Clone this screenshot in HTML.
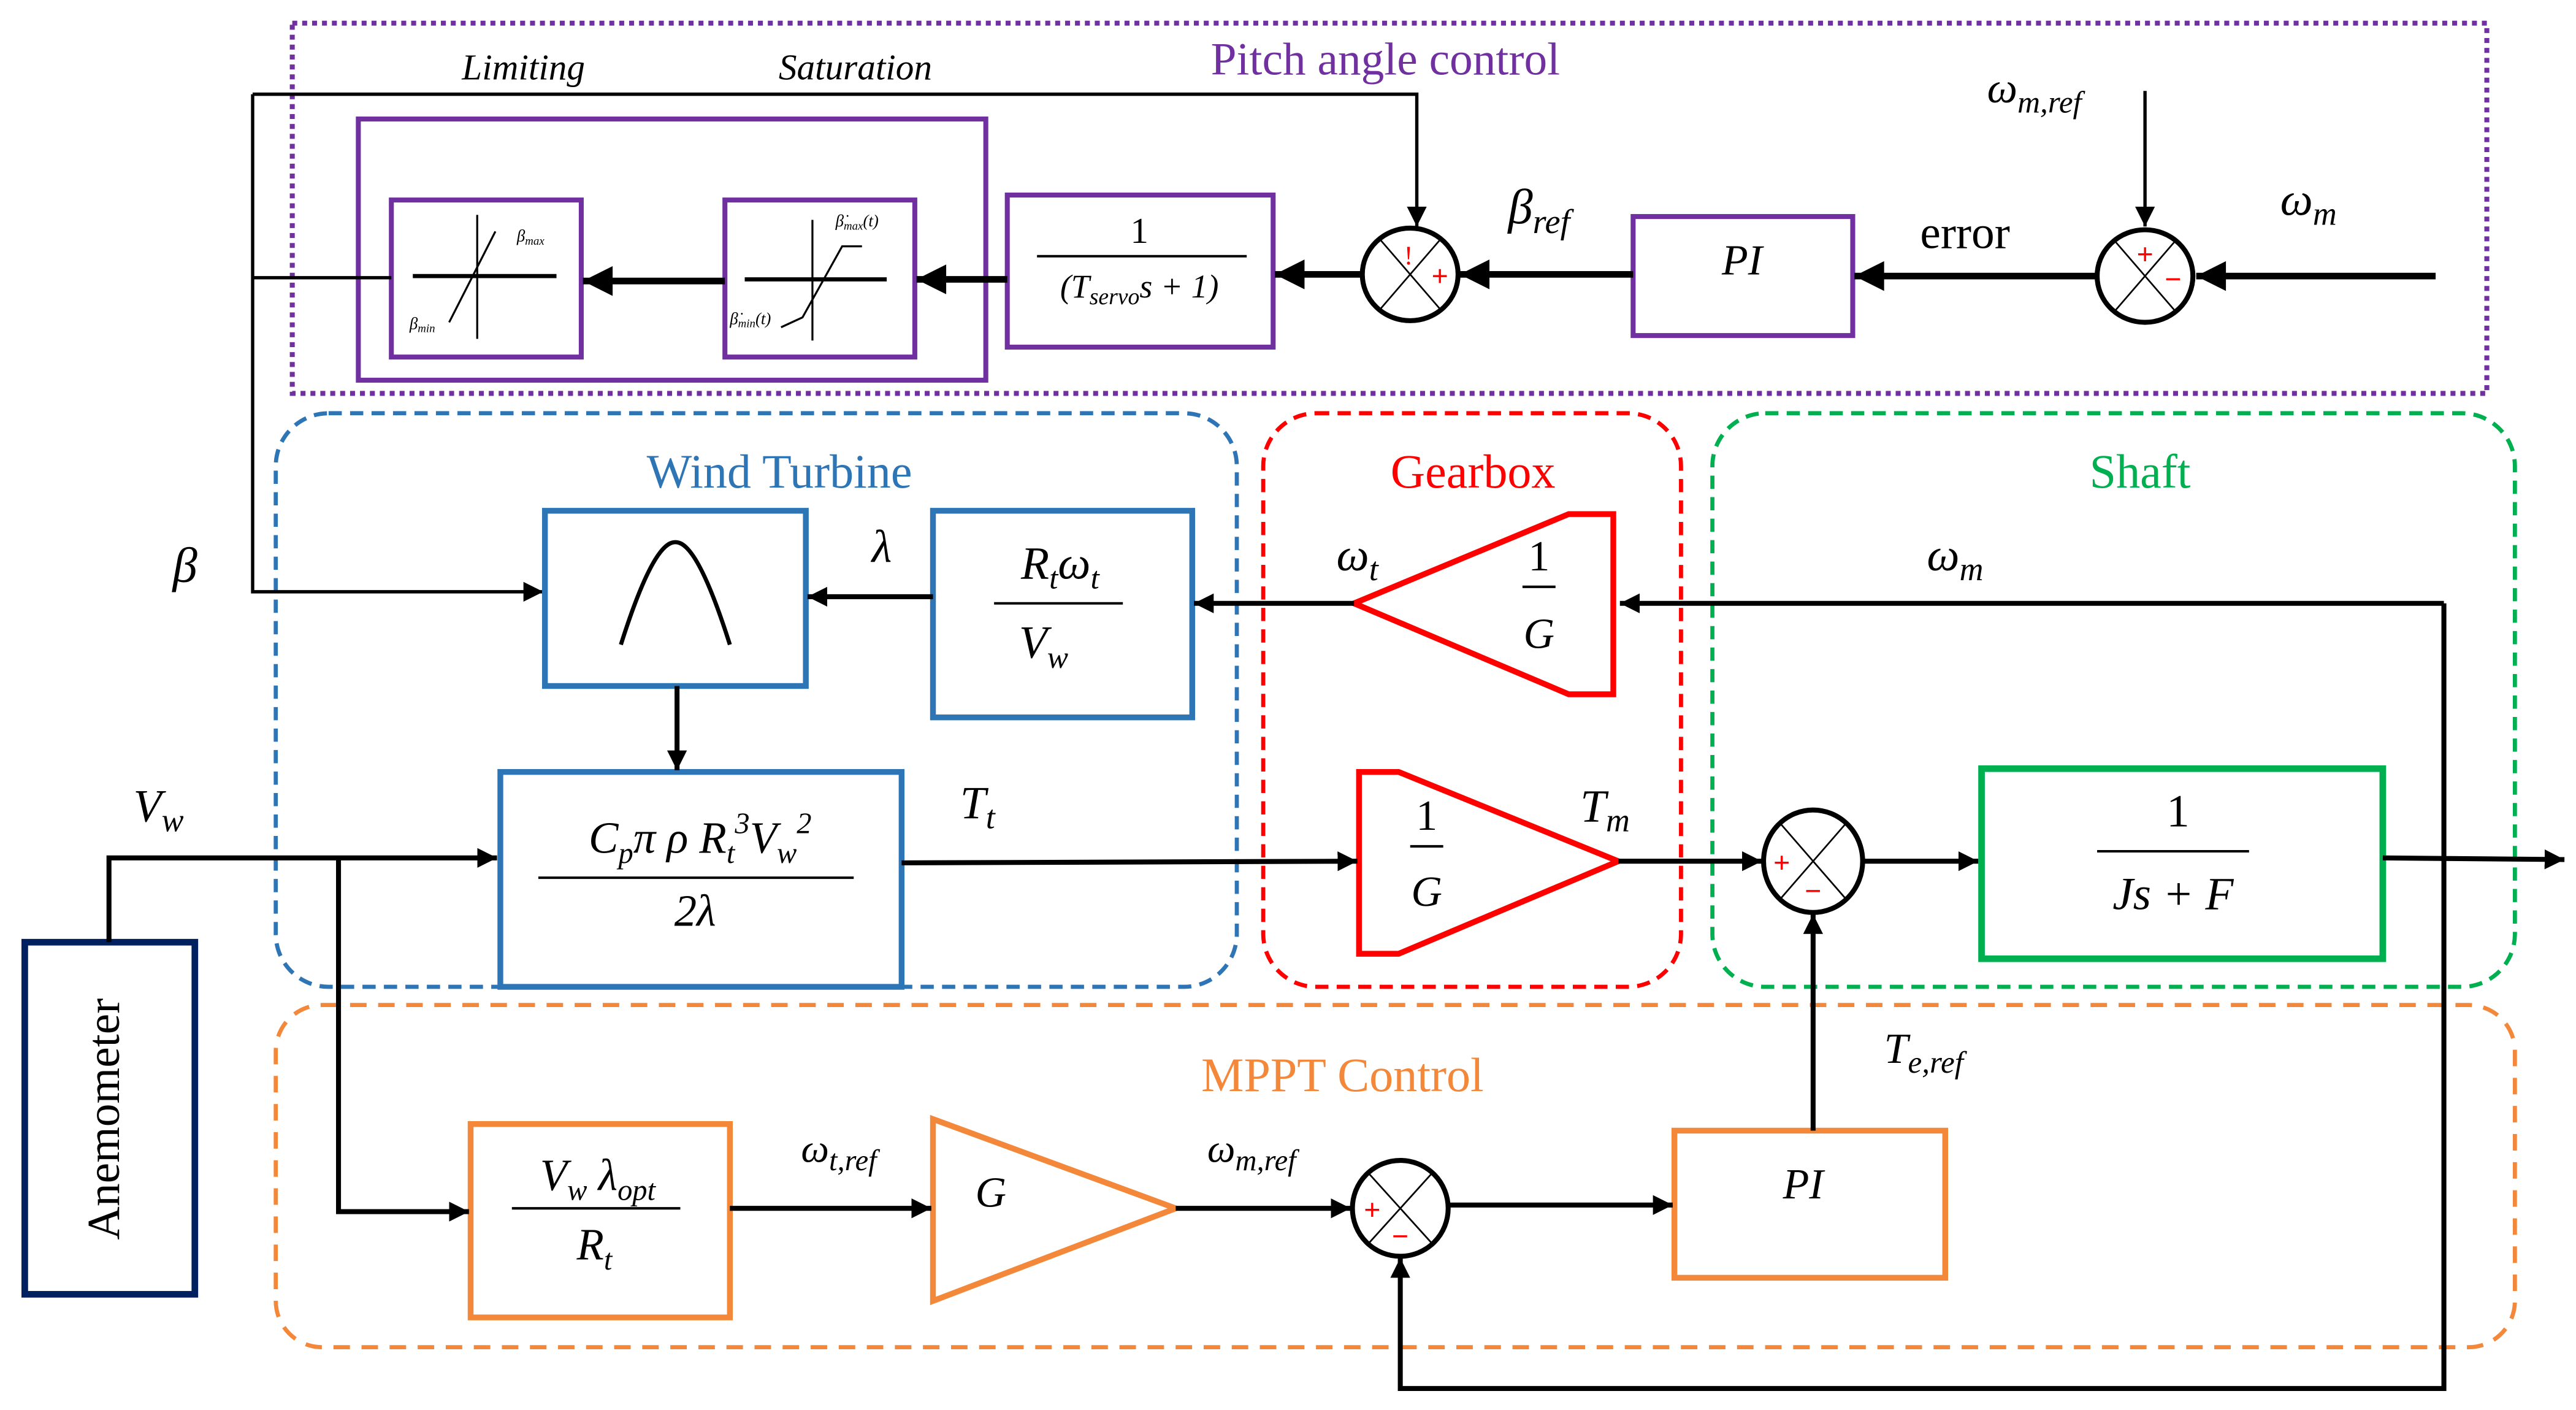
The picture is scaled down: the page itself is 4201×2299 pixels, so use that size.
<!DOCTYPE html>
<html><head><meta charset="utf-8"><style>
html,body{margin:0;padding:0;background:#fff;}
svg{display:block;}
text{font-family:"Liberation Serif",serif;}
.it{font-style:italic;}
</style></head><body>
<svg width="4201" height="2299" viewBox="0 0 1560 853" preserveAspectRatio="none" xmlns="http://www.w3.org/2000/svg">
<defs>
<marker id="a" viewBox="0 0 10 10" refX="10" refY="5" markerWidth="12" markerHeight="12" orient="auto" markerUnits="userSpaceOnUse"><path d="M0,0 L10,5 L0,10z" fill="#000"/></marker>
<marker id="A" viewBox="0 0 10 10" refX="10" refY="5" markerWidth="20" markerHeight="18" orient="auto" markerUnits="userSpaceOnUse"><path d="M0,0 L10,5 L0,10z" fill="#000"/></marker>
</defs>
<rect width="1560" height="853" fill="#fff"/>
<rect x="177" y="14" width="1329" height="224" fill="none" stroke="#7030a0" stroke-width="3" stroke-dasharray="3,3"/>
<rect x="167" y="250" width="582" height="347" rx="32" fill="none" stroke="#2e75b6" stroke-width="2.5" stroke-dasharray="8,5"/>
<rect x="765" y="250" width="253" height="347" rx="32" fill="none" stroke="#ff0000" stroke-width="2.5" stroke-dasharray="8,5"/>
<rect x="1037" y="250" width="486" height="347" rx="32" fill="none" stroke="#00b050" stroke-width="2.5" stroke-dasharray="8,5"/>
<rect x="167" y="608" width="1356" height="207" rx="28" fill="none" stroke="#f4883a" stroke-width="2.5" stroke-dasharray="10,7"/>
<text x="839" y="45" font-size="28" fill="#7030a0" text-anchor="middle">Pitch angle control</text>
<text x="472" y="295" font-size="29" fill="#2e75b6" text-anchor="middle">Wind Turbine</text>
<text x="892" y="295" font-size="29" fill="#ff0000" text-anchor="middle">Gearbox</text>
<text x="1296" y="295" font-size="29" fill="#00b050" text-anchor="middle">Shaft</text>
<text x="813" y="660" font-size="29" fill="#f4883a" text-anchor="middle">MPPT Control</text>
<text x="317" y="48" font-size="22" class="it" text-anchor="middle">Limiting</text>
<text x="518" y="48" font-size="22" class="it" text-anchor="middle">Saturation</text>
<rect x="217" y="72" width="380" height="158" fill="none" stroke="#7030a0" stroke-width="3"/>
<rect x="237" y="121" width="115" height="95" fill="none" stroke="#7030a0" stroke-width="3"/>
<rect x="439" y="121" width="115" height="95" fill="none" stroke="#7030a0" stroke-width="3"/>
<rect x="610" y="118" width="161" height="92" fill="none" stroke="#7030a0" stroke-width="3"/>
<rect x="989" y="131" width="133" height="72" fill="none" stroke="#7030a0" stroke-width="3"/>
<line x1="250" y1="167" x2="337" y2="167" stroke="#000" stroke-width="2.5"/>
<line x1="289" y1="130" x2="289" y2="205" stroke="#000" stroke-width="1.2"/>
<line x1="272" y1="195" x2="300" y2="140" stroke="#000" stroke-width="1.2"/>
<text x="313" y="146" font-size="10" class="it">β<tspan font-size="7" dy="2">max</tspan></text>
<text x="248" y="199" font-size="10" class="it">β<tspan font-size="7" dy="2">min</tspan></text>
<line x1="451" y1="169" x2="537" y2="169" stroke="#000" stroke-width="2.5"/>
<line x1="492" y1="133" x2="492" y2="206" stroke="#000" stroke-width="1.2"/>
<polyline points="473,198 486,192 510,149 522,149" fill="none" stroke="#000" stroke-width="1.2"/>
<text x="506" y="137" font-size="10" class="it">β̇<tspan font-size="7" dy="2">max</tspan><tspan dy="-2">(t)</tspan></text>
<text x="442" y="196" font-size="10" class="it">β̇<tspan font-size="7" dy="2">min</tspan><tspan dy="-2">(t)</tspan></text>
<text x="690" y="147" font-size="22" text-anchor="middle">1</text>
<line x1="628" y1="155" x2="755" y2="155" stroke="#000" stroke-width="1.5"/>
<text x="690" y="180" font-size="20" class="it" text-anchor="middle">(T<tspan font-size="14" dy="4">servo</tspan><tspan dy="-4">s + 1)</tspan></text>
<text x="1055" y="166" font-size="26" class="it" text-anchor="middle">PI</text>
<ellipse cx="854" cy="166" rx="29" ry="28" fill="#fff" stroke="#000" stroke-width="3"/>
<line x1="835" y1="144" x2="873" y2="188" stroke="#000" stroke-width="1"/><line x1="873" y1="144" x2="835" y2="188" stroke="#000" stroke-width="1"/>
<text x="853" y="160" font-size="16" fill="#f00" text-anchor="middle">!</text>
<text x="872" y="173" font-size="18" fill="#f00" text-anchor="middle" font-weight="bold">+</text>
<ellipse cx="1299" cy="167" rx="29" ry="28" fill="#fff" stroke="#000" stroke-width="3"/>
<line x1="1280" y1="145" x2="1318" y2="189" stroke="#000" stroke-width="1"/><line x1="1318" y1="145" x2="1280" y2="189" stroke="#000" stroke-width="1"/>
<text x="1299" y="160" font-size="18" fill="#f00" text-anchor="middle" font-weight="bold">+</text>
<text x="1316" y="175" font-size="18" fill="#f00" text-anchor="middle" font-weight="bold">−</text>
<g stroke="#000" fill="none">
<line x1="1475" y1="167" x2="1330" y2="167" stroke-width="4" marker-end="url(#A)"/>
<line x1="1299" y1="55" x2="1299" y2="137" stroke-width="2" marker-end="url(#a)"/>
<line x1="1270" y1="167" x2="1123" y2="167" stroke-width="4" marker-end="url(#A)"/>
<line x1="989" y1="166" x2="884" y2="166" stroke-width="4" marker-end="url(#A)"/>
<line x1="825" y1="166" x2="772" y2="166" stroke-width="4" marker-end="url(#A)"/>
<line x1="610" y1="169" x2="555" y2="169" stroke-width="4" marker-end="url(#A)"/>
<line x1="439" y1="170" x2="353" y2="170" stroke-width="4" marker-end="url(#A)"/>
<polyline points="153,57 858,57 858,137" stroke-width="2" marker-end="url(#a)"/>
<line x1="153" y1="168" x2="237" y2="168" stroke-width="2"/>
<polyline points="153,57 153,358 329,358" stroke-width="2" marker-end="url(#a)"/>
</g>
<text x="1232" y="62" font-size="26" class="it" text-anchor="middle">ω<tspan font-size="19" dy="6">m,ref</tspan></text>
<text x="1398" y="130" font-size="28" class="it" text-anchor="middle">ω<tspan font-size="20" dy="6">m</tspan></text>
<text x="1190" y="150" font-size="28" text-anchor="middle">error</text>
<text x="932" y="135" font-size="30" class="it" text-anchor="middle">β<tspan font-size="21" dy="6">ref</tspan></text>
<text x="112" y="352" font-size="30" class="it" text-anchor="middle">β</text>
<rect x="330" y="309" width="158" height="106" fill="none" stroke="#2e75b6" stroke-width="3.5"/>
<path d="M376,390 C395,330 405,328 409,328 C413,328 423,330 442,390" fill="none" stroke="#000" stroke-width="2.5"/>
<rect x="565" y="309" width="157" height="125" fill="none" stroke="#2e75b6" stroke-width="3.5"/>
<text x="642" y="350" font-size="28" class="it" text-anchor="middle">R<tspan font-size="19" dy="6">t</tspan><tspan dy="-6">ω</tspan><tspan font-size="19" dy="6">t</tspan></text>
<line x1="602" y1="365" x2="680" y2="365" stroke="#000" stroke-width="1.5"/>
<text x="632" y="398" font-size="28" class="it" text-anchor="middle">V<tspan font-size="19" dy="6">w</tspan></text>
<rect x="303" y="467" width="243" height="130" fill="none" stroke="#2e75b6" stroke-width="3.5"/>
<text x="424" y="516" font-size="27" class="it" text-anchor="middle">C<tspan font-size="18" dy="6">p</tspan><tspan dy="-6">π ρ R</tspan><tspan font-size="18" dy="6">t</tspan><tspan font-size="18" dy="-18">3</tspan><tspan dy="12">V</tspan><tspan font-size="18" dy="6">w</tspan><tspan font-size="18" dy="-18">2</tspan></text>
<line x1="326" y1="531" x2="517" y2="531" stroke="#000" stroke-width="1.5"/>
<text x="421" y="560" font-size="27" class="it" text-anchor="middle">2λ</text>
<text x="534" y="340" font-size="28" class="it" text-anchor="middle">λ</text>
<polygon points="820,365 950,311 977,311 977,420 950,420" fill="none" stroke="#f00" stroke-width="3.5"/>
<text x="932" y="345" font-size="26" text-anchor="middle">1</text>
<line x1="922" y1="355" x2="942" y2="355" stroke="#000" stroke-width="1.5"/>
<text x="932" y="392" font-size="26" class="it" text-anchor="middle">G</text>
<polygon points="823,467 847,467 980,521 847,577 823,577" fill="none" stroke="#f00" stroke-width="3.5"/>
<text x="864" y="502" font-size="26" text-anchor="middle">1</text>
<line x1="854" y1="512" x2="874" y2="512" stroke="#000" stroke-width="1.5"/>
<text x="864" y="548" font-size="26" class="it" text-anchor="middle">G</text>
<text x="822" y="345" font-size="28" class="it" text-anchor="middle">ω<tspan font-size="20" dy="6">t</tspan></text>
<text x="1184" y="345" font-size="28" class="it" text-anchor="middle">ω<tspan font-size="20" dy="6">m</tspan></text>
<text x="592" y="495" font-size="28" class="it" text-anchor="middle">T<tspan font-size="20" dy="6">t</tspan></text>
<text x="972" y="497" font-size="28" class="it" text-anchor="middle">T<tspan font-size="20" dy="6">m</tspan></text>
<text x="96" y="497" font-size="28" class="it" text-anchor="middle">V<tspan font-size="20" dy="6">w</tspan></text>
<ellipse cx="1098" cy="521" rx="30" ry="31" fill="#fff" stroke="#000" stroke-width="3"/>
<line x1="1078" y1="498" x2="1118" y2="544" stroke="#000" stroke-width="1"/><line x1="1118" y1="498" x2="1078" y2="544" stroke="#000" stroke-width="1"/>
<text x="1079" y="528" font-size="18" fill="#f00" text-anchor="middle" font-weight="bold">+</text>
<text x="1098" y="545" font-size="18" fill="#f00" text-anchor="middle" font-weight="bold">−</text>
<rect x="1200" y="465" width="243" height="115" fill="none" stroke="#00b050" stroke-width="4"/>
<text x="1319" y="500" font-size="28" text-anchor="middle">1</text>
<line x1="1270" y1="515" x2="1362" y2="515" stroke="#000" stroke-width="1.5"/>
<text x="1316" y="550" font-size="28" class="it" text-anchor="middle">Js + F</text>
<rect x="285" y="680" width="157" height="117" fill="none" stroke="#f4883a" stroke-width="3.5"/>
<text x="362" y="720" font-size="27" class="it" text-anchor="middle">V<tspan font-size="18" dy="6">w</tspan><tspan dy="-6"> λ</tspan><tspan font-size="18" dy="6">opt</tspan></text>
<line x1="310" y1="731" x2="412" y2="731" stroke="#000" stroke-width="1.5"/>
<text x="360" y="762" font-size="27" class="it" text-anchor="middle">R<tspan font-size="18" dy="6">t</tspan></text>
<polygon points="565,677 712,731 565,787" fill="none" stroke="#f4883a" stroke-width="3.5"/>
<text x="600" y="730" font-size="26" class="it" text-anchor="middle">G</text>
<ellipse cx="848" cy="731" rx="29" ry="29" fill="#fff" stroke="#000" stroke-width="3"/>
<line x1="829" y1="710" x2="867" y2="752" stroke="#000" stroke-width="1"/><line x1="867" y1="710" x2="829" y2="752" stroke="#000" stroke-width="1"/>
<text x="831" y="738" font-size="18" fill="#f00" text-anchor="middle" font-weight="bold">+</text>
<text x="848" y="754" font-size="18" fill="#f00" text-anchor="middle" font-weight="bold">−</text>
<rect x="1014" y="684" width="164" height="89" fill="none" stroke="#f4883a" stroke-width="3.5"/>
<text x="1092" y="725" font-size="26" class="it" text-anchor="middle">PI</text>
<text x="508" y="703" font-size="24" class="it" text-anchor="middle">ω<tspan font-size="18" dy="5">t,ref</tspan></text>
<text x="758" y="703" font-size="24" class="it" text-anchor="middle">ω<tspan font-size="18" dy="5">m,ref</tspan></text>
<text x="1165" y="643" font-size="26" class="it" text-anchor="middle">T<tspan font-size="19" dy="6">e,ref</tspan></text>
<rect x="15" y="570" width="103" height="213" fill="none" stroke="#002060" stroke-width="4"/>
<text transform="translate(72,677) rotate(-90)" font-size="28" text-anchor="middle">Anemometer</text>
<g stroke="#000" fill="none" stroke-width="3">
<polyline points="66,570 66,519 301,519" marker-end="url(#a)"/>
<polyline points="205,519 205,733 284,733" marker-end="url(#a)"/>
<line x1="410" y1="415" x2="410" y2="466" marker-end="url(#a)"/>
<line x1="565" y1="361" x2="489" y2="361" marker-end="url(#a)"/>
<line x1="820" y1="365" x2="723" y2="365" marker-end="url(#a)"/>
<polyline points="1480,365 981,365" marker-end="url(#a)"/>
<polyline points="1480,365 1480,840 848,840 848,761" marker-end="url(#a)"/>
<line x1="546" y1="522" x2="822" y2="521" marker-end="url(#a)"/>
<line x1="980" y1="521" x2="1067" y2="521" marker-end="url(#a)"/>
<line x1="1128" y1="521" x2="1198" y2="521" marker-end="url(#a)"/>
<line x1="1443" y1="519" x2="1553" y2="520" marker-end="url(#a)"/>
<line x1="1098" y1="684" x2="1098" y2="553" marker-end="url(#a)"/>
<line x1="442" y1="731" x2="564" y2="731" marker-end="url(#a)"/>
<line x1="712" y1="731" x2="818" y2="731" marker-end="url(#a)"/>
<line x1="878" y1="729" x2="1013" y2="729" marker-end="url(#a)"/>
</g>
</svg>
</body></html>
